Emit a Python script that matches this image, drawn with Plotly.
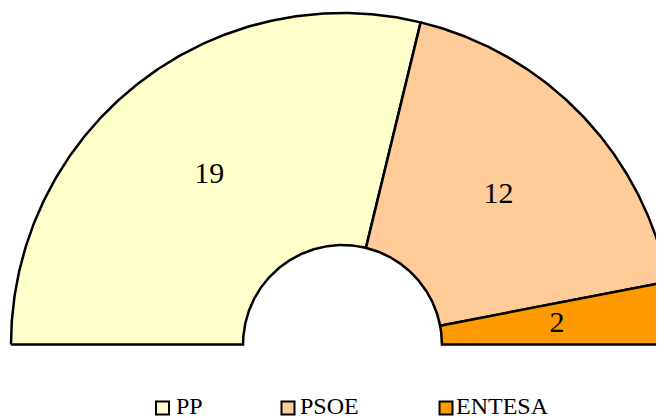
import numpy as np
import plotly.graph_objects as go

# ---- data ----
parties = ["PP", "PSOE", "ENTESA"]
seats = [19, 12, 2]
colors = ["#FFFFCC", "#FFCC99", "#FF9900"]

# ---- geometry / layout settings ----
OFF = 8                      # default page body margin
W, H = 664 - OFF, 418 - OFF  # figure fits in the window
HOLE = 0.30                  # inner radius as fraction of outer radius
SCX, SCY = 342.5, 344.5      # centre of the half ring, window px
RPX = 331.5                  # outer radius in px
FONT = "Liberation Serif, Times New Roman, serif"

# legend layout (window px): square centres, text starts, row height
LEG_SQ_X = [162.5, 288, 446]
LEG_TX_X = [176, 300, 456]
LEG_Y = 408


def px_to_data(px, py):
    return (np.asarray(px) - SCX) / RPX, (SCY - np.asarray(py)) / RPX


total = sum(seats)
cum = np.concatenate([[0], np.cumsum(seats)])

fig = go.Figure()
for i, (p, s, c) in enumerate(zip(parties, seats, colors)):
    a0 = np.pi * (1 - cum[i] / total)
    a1 = np.pi * (1 - cum[i + 1] / total)
    t = np.linspace(a0, a1, 240)
    xs = np.concatenate([np.cos(t), HOLE * np.cos(t[::-1])])
    ys = np.concatenate([np.sin(t), HOLE * np.sin(t[::-1])])
    xs = np.append(xs, xs[0])
    ys = np.append(ys, ys[0])
    fig.add_trace(go.Scatter(
        x=xs, y=ys, mode="lines", fill="toself", fillcolor=c,
        line=dict(color="black", width=2.5), showlegend=False,
        hoverinfo="skip", name=p))

# value labels at mid-angle / mid-radius of each segment
mid_a = np.pi * (1 - (cum[:-1] + cum[1:]) / 2 / total)
mid_r = (1 + HOLE) / 2
fig.add_trace(go.Scatter(
    x=mid_r * np.cos(mid_a), y=mid_r * np.sin(mid_a), mode="text",
    text=[str(s) for s in seats], textposition="middle center",
    textfont=dict(family=FONT, size=30, color="black"),
    showlegend=False, hoverinfo="skip"))

# legend row drawn as square markers + text
sx, sy = px_to_data(LEG_SQ_X, [LEG_Y] * len(parties))
fig.add_trace(go.Scatter(
    x=sx, y=sy, mode="markers",
    marker=dict(symbol="square", size=13, color=colors,
                line=dict(color="black", width=2)),
    cliponaxis=False, showlegend=False, hoverinfo="skip"))
tx, ty = px_to_data(LEG_TX_X, [LEG_Y] * len(parties))
fig.add_trace(go.Scatter(
    x=tx, y=ty, mode="text", text=parties,
    textposition="middle right",
    textfont=dict(family=FONT, size=24, color="black"),
    cliponaxis=False, showlegend=False, hoverinfo="skip"))

x0, y0 = px_to_data(OFF, OFF)
x1, y1 = px_to_data(OFF + W, OFF + H)
fig.update_layout(
    width=W, height=H,
    margin=dict(l=0, r=0, t=0, b=0),
    paper_bgcolor="white", plot_bgcolor="white",
    showlegend=False,
    xaxis=dict(range=[x0, x1], visible=False,
               showgrid=False, zeroline=False, fixedrange=True),
    yaxis=dict(range=[y1, y0], visible=False,
               showgrid=False, zeroline=False, fixedrange=True),
)

fig.write_html("out.html")
